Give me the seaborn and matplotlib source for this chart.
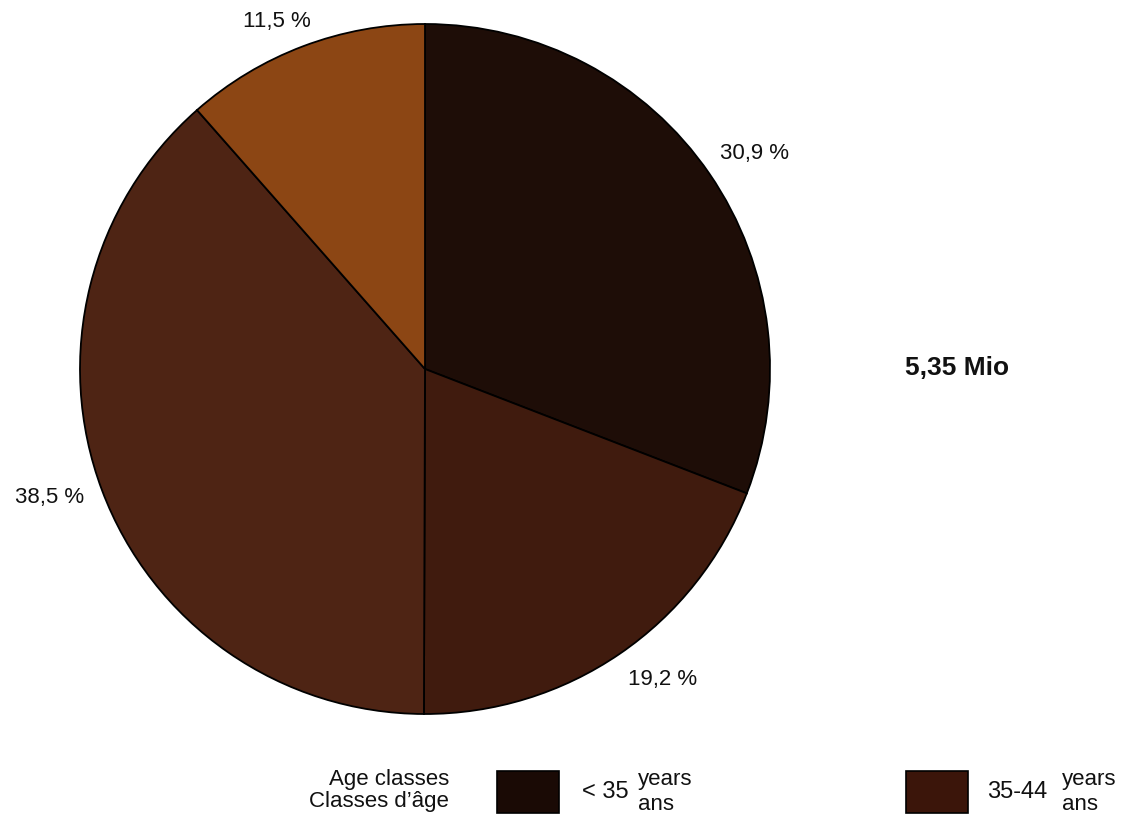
import matplotlib
matplotlib.use("Agg")
import matplotlib.pyplot as plt
import seaborn as sns

# Shares by age class, clockwise from 12 o'clock
SHARES = [30.9, 19.2, 38.5, 11.5]
SHARE_LABELS = ["30,9 %", "19,2 %", "38,5 %", "11,5 %"]
COLORS = ["#1e0d07", "#401b0e", "#4e2414", "#8c4614"]
TOTAL_LABEL = "5,35 Mio"
LEGEND_TITLE = ["Age classes", "Classes d\u2019âge"]
LEGEND_CLASSES = ["< 35", "35-44"]
LEGEND_COLORS = ["#1a0a05", "#3b150a"]

W, H = 1127, 818

sns.set_style("white")
plt.rcParams["font.family"] = ["Liberation Sans", "DejaVu Sans"]

fig = plt.figure(figsize=(W / 100, H / 100), dpi=100)
ax = fig.add_axes([0, 0, 1, 1])


def y(v):
    # image pixel row -> data y
    return H - v


ax.pie(SHARES, colors=COLORS, startangle=90, counterclock=False,
       center=(425, y(369)), radius=345,
       wedgeprops=dict(edgecolor="black", linewidth=1.3))
ax.set_xlim(0, W)
ax.set_ylim(0, H)
ax.set_aspect("equal", adjustable="box")
ax.set_axis_off()

# percentage labels
label_pos = [(720, 154, "left"), (628, 680, "left"), (15, 498, "left"),
             (243, 21, "left")]
for (px, py, ha), lab in zip(label_pos, SHARE_LABELS):
    ax.text(px, y(py), lab, ha=ha, va="center", fontsize=16, color="#111111")

ax.text(905, y(368), TOTAL_LABEL, ha="left", va="center", fontsize=19,
        fontweight="bold", color="#111111")

# legend
ax.text(449, y(779), LEGEND_TITLE[0], ha="right", va="center", fontsize=16,
        color="#111111")
ax.text(449, y(802), LEGEND_TITLE[1], ha="right", va="center", fontsize=16,
        color="#111111")

for bx, col, cls, tx in [(497, LEGEND_COLORS[0], LEGEND_CLASSES[0], 582),
                         (906, LEGEND_COLORS[1], LEGEND_CLASSES[1], 987)]:
    ax.add_patch(plt.Rectangle((bx, y(813)), 62, 42, facecolor=col,
                               edgecolor="black", linewidth=1.2))
    ax.text(tx, y(792), cls, ha="left", va="center", fontsize=17,
            color="#111111")
    sx = tx + (56 if cls.startswith("<") else 75)
    ax.text(sx, y(779), "years", ha="left", va="center", fontsize=16,
            color="#111111")
    ax.text(sx, y(804), "ans", ha="left", va="center", fontsize=16,
            color="#111111")

fig.savefig("out.png", dpi=100, facecolor="white")
